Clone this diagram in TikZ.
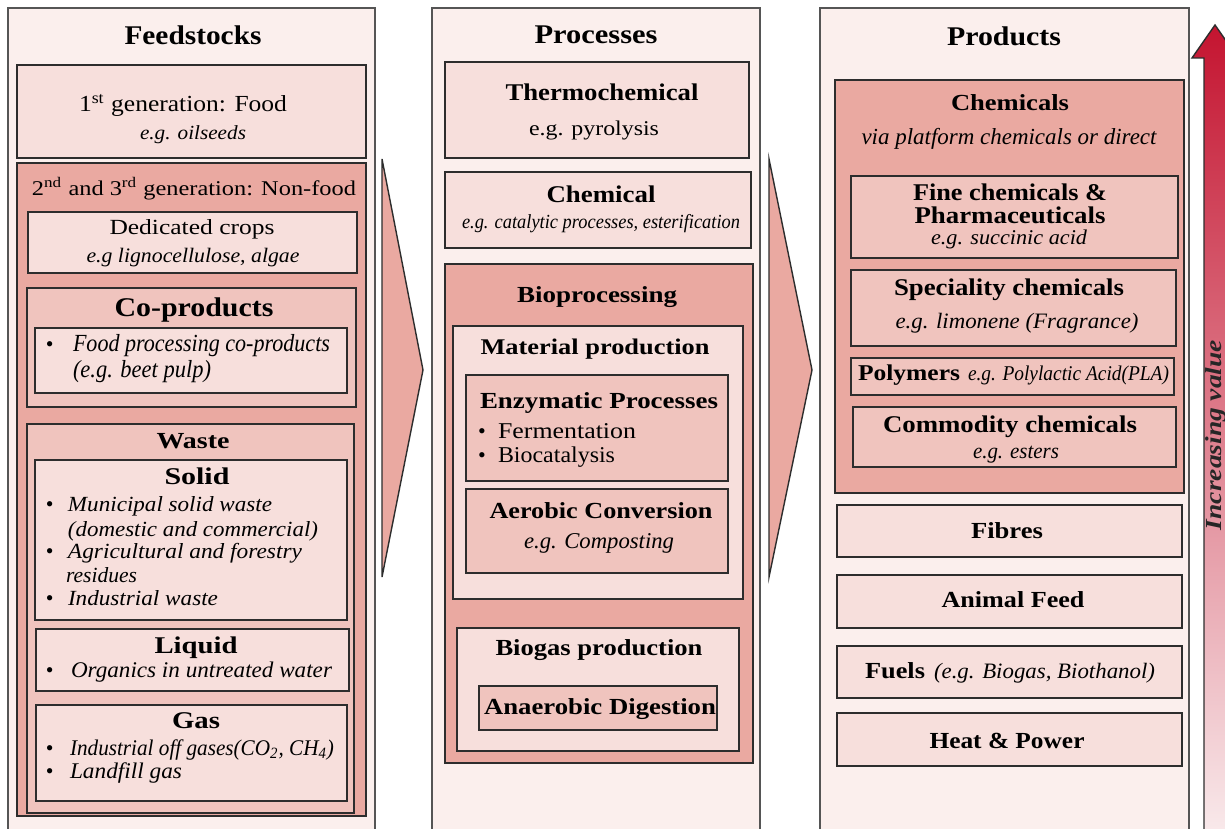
\documentclass[tikz,border=0pt]{standalone}
\usepackage{graphicx}
\usepackage{fontspec}
\setmainfont{Liberation Serif}
\definecolor{colBg}{RGB}{251,239,237}
\definecolor{lightF}{RGB}{247,223,220}
\definecolor{medF}{RGB}{240,196,190}
\definecolor{darkF}{RGB}{234,169,161}
\definecolor{lineC}{RGB}{45,45,45}
\definecolor{colLine}{RGB}{85,85,85}
\definecolor{arrTop}{RGB}{196,20,48}
\definecolor{arrMid}{RGB}{226,112,112}
\definecolor{arrBot}{RGB}{252,246,246}
\newlength\fitlen
% set #3 at size #2 pt, stretched horizontally to #1 px wide (1px = 0.5pt)
\newcommand\fitx[3]{\fontsize{#2pt}{#2pt}\selectfont\settowidth{\fitlen}{#3}\pgfmathsetmacro\fitsc{0.5*#1/\fitlen}\scalebox{\fitsc}[1]{#3}}
\tikzset{
  boxst/.style={draw=lineC, line width=0.8pt, rectangle, inner sep=0pt, outer sep=0pt},
  colst/.style={draw=colLine, line width=0.6pt, fill=colBg, rectangle, inner sep=0pt, outer sep=0pt},
  txt/.style={inner sep=0pt, outer sep=0pt, anchor=base},
  ltxt/.style={inner sep=0pt, outer sep=0pt, anchor=base west},
  chev/.style={draw=lineC, line width=0.7pt, fill=darkF, line join=miter}
}
\newcommand\bx[7][boxst]{\node[#1, fill=#3, minimum width={(#6-#4)*0.5pt}, minimum height={(#7-#5)*0.5pt}] (#2) at ({(#4+#6)/2},{(#5+#7)/2}) {};}
\newcommand\bul[3]{\node[ltxt] (#1) at (#2,#3) {\fontsize{11pt}{11pt}\selectfont\textbullet};}
\begin{document}
\begin{tikzpicture}[x=0.5pt, y=-0.5pt]
\useasboundingbox (0,0) rectangle (1225,829);
\fill[white] (0,0) rectangle (1225,829);
% ---------- columns
\bx[colst]{feedcol}{colBg}{8}{8}{375}{880}
\bx[colst]{proccol}{colBg}{432}{8}{760}{880}
\bx[colst]{prodcol}{colBg}{820}{8}{1189}{880}
\node[txt] (tFeed) at (193,45) {\fitx{137}{13.5}{\bfseries Feedstocks}};
\node[txt] (tProc) at (596,44) {\fitx{123}{13.5}{\bfseries Processes}};
\node[txt] (tProd) at (1004,46) {\fitx{114}{13.5}{\bfseries Products}};
% ---------- chevrons
\coordinate (c1t) at (382,159); \coordinate (c1p) at (423,370); \coordinate (c1b) at (382,577);
\coordinate (c2t) at (769,159); \coordinate (c2p) at (812,370); \coordinate (c2b) at (769,577);
\draw[chev] (c1t) -- (c1p) -- (c1b) -- cycle;
\draw[chev] (c2t) -- (c2p) -- (c2b) -- cycle;
% ---------- feedstocks
\bx{gen1}{lightF}{17}{65}{366}{158}
\node[txt] (gen1a) at (183,112) {\fitx{208}{11.5}{1\textsuperscript{st} generation: Food}};
\node[txt] (gen1b) at (193,140) {\fitx{106}{10}{\itshape e.g. oilseeds}};
\bx{gen2}{darkF}{17}{163}{366}{816}
\node[txt] (gen2a) at (194,195) {\fitx{324}{10.5}{2\textsuperscript{nd} and 3\textsuperscript{rd} generation: Non-food}};
\bx{ded}{lightF}{28}{212}{357}{273}
\node[txt] (deda) at (192,234) {\fitx{165}{10.8}{Dedicated crops}};
\node[txt] (dedb) at (193,262) {\fitx{213}{10.3}{\itshape e.g lignocellulose, algae}};
\bx{cop}{medF}{27}{288}{356}{407}
\node[txt] (copa) at (194,316) {\fitx{159}{13.5}{\bfseries Co-products}};
\bx{copin}{lightF}{35}{328}{347}{393}
\bul{copb1}{46}{351}
\node[ltxt] (copb) at (73,351) {\fitx{257}{12.3}{\itshape Food processing co-products}};
\node[ltxt] (copc) at (73,377) {\fitx{138}{12.3}{\itshape (e.g. beet pulp)}};
\bx{waste}{medF}{27}{424}{354}{813}
\node[txt] (wastea) at (193,448) {\fitx{73}{11.5}{\bfseries Waste}};
\bx{solid}{lightF}{35}{460}{347}{620}
\node[txt] (solida) at (197,484) {\fitx{65}{12}{\bfseries Solid}};
\bul{sb1}{46}{511}
\node[ltxt] (s1) at (68,511) {\fitx{204}{10.8}{\itshape Municipal solid waste}};
\node[ltxt] (s2) at (68,536) {\fitx{250}{10.8}{\itshape (domestic and commercial)}};
\bul{sb2}{46}{558}
\node[ltxt] (s3) at (68,558) {\fitx{234}{10.8}{\itshape Agricultural and forestry}};
\node[ltxt] (s4) at (66,582) {\fitx{71}{10.8}{\itshape residues}};
\bul{sb3}{46}{605}
\node[ltxt] (s5) at (68,605) {\fitx{150}{10.8}{\itshape Industrial waste}};
\bx{liquid}{lightF}{36}{629}{349}{691}
\node[txt] (liqa) at (196,653) {\fitx{83}{12}{\bfseries Liquid}};
\bul{lb1}{46}{677}
\node[ltxt] (liqb) at (71,677) {\fitx{261}{11.2}{\itshape Organics in untreated water}};
\bx{gas}{lightF}{36}{705}{347}{801}
\node[txt] (gasa) at (196,728) {\fitx{48}{12}{\bfseries Gas}};
\bul{gb1}{46}{755}
\node[ltxt] (gasb) at (70,755) {\fitx{264}{11.2}{\itshape Industrial off gases(CO\textsubscript{2}, CH\textsubscript{4})}};
\bul{gb2}{46}{778}
\node[ltxt] (gasc) at (70,778) {\fitx{112}{11.2}{\itshape Landfill gas}};
% ---------- processes
\bx{thermo}{lightF}{445}{62}{749}{158}
\node[txt] (thermoa) at (602,101) {\fitx{193}{12}{\bfseries Thermochemical}};
\node[txt] (thermob) at (594,135) {\fitx{130}{10.5}{e.g. pyrolysis}};
\bx{chem}{lightF}{445}{172}{751}{248}
\node[txt] (chema) at (601,202) {\fitx{109}{12}{\bfseries Chemical}};
\node[txt] (chemb) at (601,228) {\fitx{278}{10}{\itshape e.g. catalytic processes, esterification}};
\bx{bio}{darkF}{445}{264}{753}{763}
\node[txt] (bioa) at (597,302) {\fitx{160}{11.5}{\bfseries Bioprocessing}};
\bx{mat}{lightF}{453}{326}{743}{599}
\node[txt] (mata) at (595,354) {\fitx{229}{11.2}{\bfseries Material production}};
\bx{enz}{medF}{466}{375}{728}{481}
\node[txt] (enza) at (599,408) {\fitx{238}{11.5}{\bfseries Enzymatic Processes}};
\bul{eb1}{478}{438}
\node[ltxt] (enzb) at (498,438) {\fitx{138}{11.3}{Fermentation}};
\bul{eb2}{478}{462}
\node[ltxt] (enzc) at (498,462) {\fitx{117}{11.3}{Biocatalysis}};
\bx{aer}{medF}{466}{489}{728}{573}
\node[txt] (aera) at (601,518) {\fitx{223}{11.5}{\bfseries Aerobic Conversion}};
\node[txt] (aerb) at (599,548) {\fitx{150}{11.3}{\itshape e.g. Composting}};
\bx{biogas}{lightF}{457}{628}{739}{751}
\node[txt] (biogasa) at (599,655) {\fitx{207}{11.5}{\bfseries Biogas production}};
\bx{anae}{medF}{479}{686}{717}{730}
\node[txt] (anaea) at (600,714) {\fitx{232}{11.5}{\bfseries Anaerobic Digestion}};
% ---------- products
\bx{chems}{darkF}{835}{80}{1184}{493}
\node[txt] (chemsa) at (1010,111) {\fitx{118}{11.5}{\bfseries Chemicals}};
\node[txt] (chemsb) at (1009,144) {\fitx{295}{11.5}{\itshape via platform chemicals or direct}};
\bx{fine}{medF}{851}{176}{1178}{258}
\node[txt] (finea) at (1010,200) {\fitx{194}{12}{\bfseries Fine chemicals \&}};
\node[txt] (fineb) at (1010,223) {\fitx{191}{12}{\bfseries Pharmaceuticals}};
\node[txt] (finec) at (1009,244) {\fitx{156}{10.5}{\itshape e.g. succinic acid}};
\bx{spec}{medF}{851}{270}{1176}{346}
\node[txt] (speca) at (1009,295) {\fitx{230}{12}{\bfseries Speciality chemicals}};
\node[txt] (specb) at (1017,328) {\fitx{243}{11}{\itshape e.g. limonene (Fragrance)}};
\bx{poly}{medF}{851}{358}{1174}{395}
\node[ltxt] (polya) at (858,380) {\fitx{102}{11.3}{\bfseries Polymers}};
\node[ltxt] (polyb) at (968,380) {\fitx{201}{10.5}{\itshape e.g. Polylactic Acid(PLA)}};
\bx{comm}{medF}{853}{407}{1176}{467}
\node[txt] (comma) at (1010,432) {\fitx{254}{12}{\bfseries Commodity chemicals}};
\node[txt] (commb) at (1016,458) {\fitx{86}{11}{\itshape e.g. esters}};
\bx{fib}{lightF}{837}{505}{1182}{557}
\node[txt] (fiba) at (1007,538) {\fitx{72}{11.5}{\bfseries Fibres}};
\bx{feed}{lightF}{837}{575}{1182}{628}
\node[txt] (feeda) at (1013,607) {\fitx{143}{11.5}{\bfseries Animal Feed}};
\bx{fuel}{lightF}{837}{646}{1182}{698}
\node[ltxt] (fuela) at (865,678) {\fitx{60}{11.5}{\bfseries Fuels}};
\node[ltxt] (fuelb) at (934,678) {\fitx{221}{11}{\itshape (e.g. Biogas, Biothanol)}};
\bx{heat}{lightF}{837}{713}{1182}{766}
\node[txt] (heata) at (1007,748) {\fitx{155}{11.5}{\bfseries Heat \& Power}};
% ---------- increasing value arrow
\coordinate (aTip) at (1215,25);
\path[draw=lineC, line width=0.7pt, top color=arrTop, middle color=arrMid, bottom color=arrBot]
  (aTip) -- (1238,58) -- (1226,58) -- (1226,880) -- (1204,880) -- (1204,58) -- (1192,58) -- cycle;
\node[txt, rotate=90, text=black!85] (incv) at (1221,435) {\fitx{190}{11.5}{\bfseries\itshape Increasing value}};
\end{tikzpicture}
\end{document}
